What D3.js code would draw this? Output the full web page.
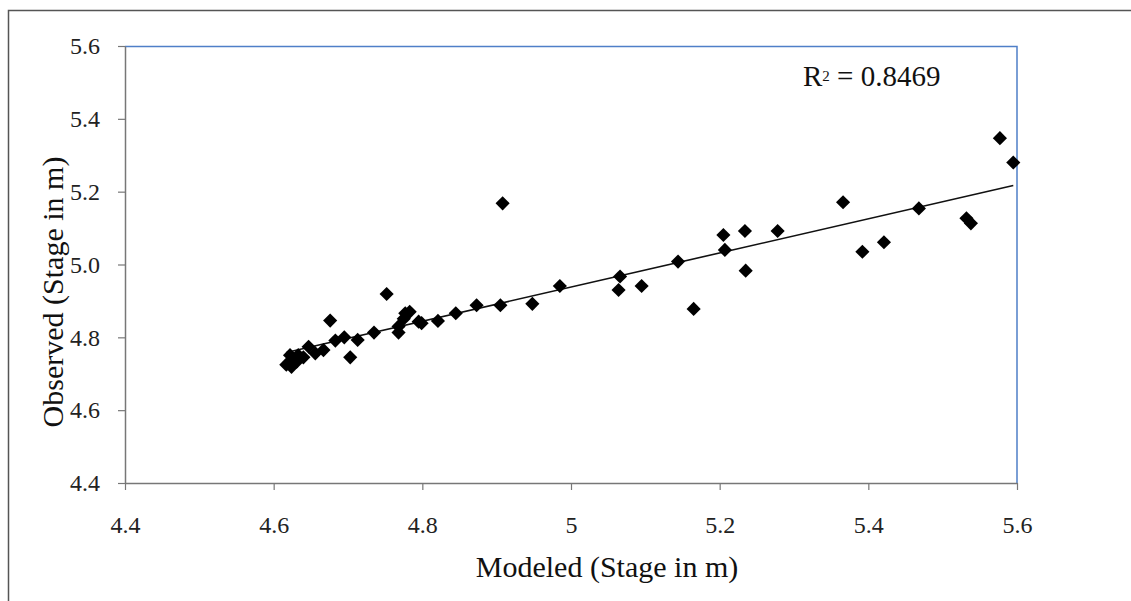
<!DOCTYPE html>
<html><head><meta charset="utf-8">
<script src="https://cdn.jsdelivr.net/npm/d3@7"></script>
<style>
html,body{margin:0;padding:0;background:#fff;}
</style></head>
<body>
<svg id="c" width="1131" height="601"></svg>
<script>
const modeled = [4.617,4.624,4.626,4.622,4.631,4.633,4.640,4.647,4.656,4.667,4.676,4.683,4.695,4.703,4.713,4.735,4.752,4.768,4.768,4.775,4.777,4.783,4.795,4.799,4.821,4.845,4.873,4.905,4.908,4.948,4.985,5.064,5.066,5.095,5.144,5.165,5.205,5.207,5.234,5.235,5.278,5.366,5.392,5.421,5.468,5.532,5.538,5.577,5.595];
const observed = [4.725,4.719,4.738,4.751,4.733,4.751,4.745,4.774,4.756,4.765,4.846,4.791,4.800,4.745,4.793,4.813,4.919,4.813,4.830,4.851,4.866,4.870,4.843,4.839,4.845,4.866,4.888,4.888,5.168,4.892,4.941,4.930,4.967,4.941,5.008,4.878,5.081,5.040,5.092,4.983,5.092,5.171,5.035,5.061,5.154,5.127,5.113,5.347,5.280];
const xTicks = [4.4,4.6,4.8,5,5.2,5.4,5.6];
const yTicks = [4.4,4.6,4.8,5.0,5.2,5.4,5.6];
const xTickLabels = ["4.4","4.6","4.8","5","5.2","5.4","5.6"];
const yTickLabels = ["4.4","4.6","4.8","5.0","5.2","5.4","5.6"];
const r2Label = "0.8469";
const xTitle = "Modeled (Stage in m)";
const yTitle = "Observed (Stage in m)";

const FONT = "Liberation Serif";
const svg = d3.select("#c");
const L=125, R=1017, T=46, B=483;
const x = d3.scaleLinear().domain([4.4,5.6]).range([L,R]);
const y = d3.scaleLinear().domain([4.4,5.6]).range([B,T]);

// outer frame
svg.append("rect").attr("x",8.5).attr("y",10.5).attr("width",1200).attr("height",700)
  .attr("fill","none").attr("stroke","#555").attr("stroke-width",1.5);

// top & right blue border
svg.append("path").attr("d",`M${L},${T+0.5}H${R}V${B}`).attr("fill","none")
  .attr("stroke","#4f7fc8").attr("stroke-width",1.5);

// axes
const xAxis = d3.axisBottom(x).tickValues(xTicks).tickSize(7).tickSizeOuter(0)
  .tickFormat((d,i)=>xTickLabels[i]).tickPadding(26);
const gx = svg.append("g").attr("transform",`translate(0,${B})`).call(xAxis);
const yAxis = d3.axisLeft(y).tickValues(yTicks).tickSize(7).tickSizeOuter(0)
  .tickFormat((d,i)=>yTickLabels[i]).tickPadding(18);
const gy = svg.append("g").attr("transform",`translate(${L},0)`).call(yAxis);
[gx,gy].forEach(g=>{
  g.attr("font-family",FONT).attr("font-size",24);
  g.select(".domain").attr("stroke","#777").attr("stroke-width",1.5);
  g.selectAll(".tick line").attr("stroke","#777").attr("stroke-width",1.2);
  g.selectAll("text").attr("font-family",FONT).attr("font-size",24).attr("fill","#222");
});

// regression
const n = modeled.length;
const mx = d3.mean(modeled), my = d3.mean(observed);
let sxy=0,sxx=0;
for(let i=0;i<n;i++){sxy+=(modeled[i]-mx)*(observed[i]-my);sxx+=(modeled[i]-mx)**2;}
const slope=sxy/sxx, icpt=my-slope*mx;
const [x0,x1]=d3.extent(modeled);
svg.append("line").attr("x1",x(x0)).attr("y1",y(icpt+slope*x0)).attr("x2",x(x1)).attr("y2",y(icpt+slope*x1))
  .attr("stroke","#111").attr("stroke-width",1.6);

// points (diamonds)
const sym = d3.symbol().type(d3.symbolSquare).size(100);
svg.append("g").selectAll("path").data(d3.range(n)).join("path")
  .attr("d",sym)
  .attr("transform",i=>`translate(${x(modeled[i])},${y(observed[i])}) rotate(45)`)
  .attr("fill","#000");

// R2 label
const t = svg.append("text").attr("x",803).attr("y",86).attr("font-family",FONT).attr("font-size",29).attr("fill","#111");
t.append("tspan").text("R");
t.append("tspan").attr("font-size",15).attr("dy",-5).text("2");
t.append("tspan").attr("dy",5).text(" = "+r2Label);

// axis titles
svg.append("text").attr("x",607).attr("y",577).attr("text-anchor","middle").attr("font-family",FONT).attr("font-size",30).attr("fill","#111").text(xTitle);
svg.append("text").attr("transform","translate(63,292) rotate(-90)").attr("text-anchor","middle").attr("font-family",FONT).attr("font-size",30).attr("fill","#111").text(yTitle);
</script>
</body></html>
